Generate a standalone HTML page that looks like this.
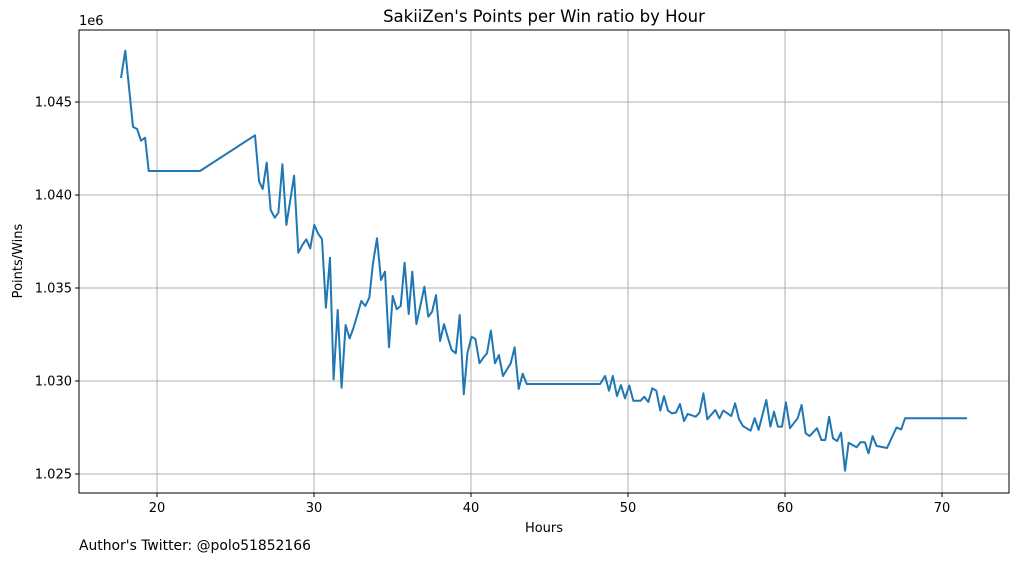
<!DOCTYPE html>
<html><head><meta charset="utf-8"><style>
body{margin:0;background:#fff;font-family:"Liberation Sans","DejaVu Sans",sans-serif;}
svg text{font-family:"DejaVu Sans","Liberation Sans",sans-serif;fill:#000;}
</style></head><body>
<svg id="chart" width="1019" height="562" viewBox="0 0 1019 562" xmlns="http://www.w3.org/2000/svg">
<rect width="1019" height="562" fill="#fff"/>
<g id="grid"></g>
<path id="line" fill="none" stroke="#1f77b4" stroke-width="2" stroke-linejoin="round"/>
<rect x="79" y="30" width="930" height="463" fill="none" stroke="#000" stroke-width="1"/>
<g id="ticks"></g>
<text x="544" y="22" font-size="16.5" text-anchor="middle">SakiiZen's Points per Win ratio by Hour</text>
<text x="544" y="532" font-size="13" text-anchor="middle">Hours</text>
<text x="22" y="261" font-size="13" text-anchor="middle" transform="rotate(-90 22 261)">Points/Wins</text>
<text x="79" y="25" font-size="13">1e6</text>
<text x="79" y="550" font-size="13.9">Author's Twitter: @polo51852166</text>
</svg>
<script>
const hours=[17.71,17.98,18.47,18.73,18.98,19.24,19.47,22.74,26.24,26.50,26.73,26.99,27.24,27.50,27.73,27.99,28.24,28.73,29.00,29.26,29.51,29.76,30.02,30.25,30.51,30.76,31.02,31.25,31.51,31.76,32.01,32.27,32.50,32.76,33.01,33.27,33.52,33.76,34.01,34.27,34.52,34.78,35.01,35.27,35.52,35.77,36.03,36.26,36.52,36.77,37.03,37.28,37.52,37.77,38.03,38.28,38.54,38.77,39.03,39.28,39.54,39.77,40.03,40.28,40.54,40.76,41.02,41.27,41.53,41.78,42.04,42.27,42.53,42.78,43.04,43.29,43.55,48.22,48.54,48.79,49.03,49.30,49.55,49.81,50.08,50.34,50.80,51.03,51.29,51.55,51.80,52.06,52.29,52.55,52.80,53.06,53.31,53.57,53.80,54.31,54.56,54.80,55.05,55.56,55.82,56.07,56.58,56.82,57.07,57.32,57.81,58.07,58.32,58.81,59.07,59.30,59.55,59.81,60.06,60.32,60.81,61.06,61.32,61.57,62.04,62.32,62.57,62.81,63.06,63.32,63.57,63.82,64.05,64.56,64.81,65.09,65.32,65.58,65.83,66.5,67.1,67.4,67.65,71.6];
const ratios=[1.04629,1.04776,1.04366,1.04355,1.04292,1.04308,1.04129,1.04129,1.04321,1.04072,1.04032,1.04174,1.03919,1.03878,1.03905,1.04165,1.03839,1.04104,1.03690,1.03731,1.03762,1.03713,1.03839,1.03794,1.03763,1.03394,1.03663,1.03009,1.03382,1.02964,1.03301,1.03229,1.03283,1.03355,1.03430,1.03403,1.03448,1.03633,1.03767,1.03543,1.03588,1.03181,1.03457,1.03386,1.03403,1.03636,1.03360,1.03588,1.03306,1.03403,1.03507,1.03345,1.03373,1.03462,1.03215,1.03306,1.03229,1.03167,1.03149,1.03355,1.02929,1.03149,1.03238,1.03226,1.03095,1.03122,1.03149,1.03271,1.03095,1.03140,1.03027,1.03059,1.03095,1.03181,1.02957,1.03040,1.02984,1.02984,1.03027,1.02948,1.03027,1.02919,1.02978,1.02907,1.02975,1.02894,1.02894,1.02915,1.02887,1.02961,1.02948,1.02841,1.02919,1.02841,1.02826,1.02830,1.02876,1.02785,1.02823,1.02808,1.02830,1.02934,1.02794,1.02844,1.02799,1.02841,1.02812,1.02880,1.02794,1.02758,1.02733,1.02800,1.02737,1.02898,1.02755,1.02835,1.02755,1.02755,1.02885,1.02746,1.02800,1.02871,1.02719,1.02704,1.02746,1.02683,1.02683,1.02808,1.02692,1.02677,1.02722,1.02518,1.02668,1.02644,1.02671,1.02671,1.02611,1.02704,1.02651,1.02640,1.02750,1.02740,1.02800,1.02800];
const xTicks=[20,30,40,50,60,70];
const yTicks=[1.025,1.030,1.035,1.040,1.045];
const yTickLabels=["1.025","1.030","1.035","1.040","1.045"];

const NS="http://www.w3.org/2000/svg";
function xs(h){return 157+(h-20)*15.7;}
function ys(v){return 102+(1.045-v)*18600;}
const grid=document.getElementById('grid'),ticks=document.getElementById('ticks');
function mk(tag,attrs,parent){const e=document.createElementNS(NS,tag);for(const k in attrs)e.setAttribute(k,attrs[k]);parent.appendChild(e);return e;}
xTicks.forEach(t=>{
  const x=xs(t);
  const g=mk('line',{x1:x,x2:x,y1:30,y2:493,stroke:'#b0b0b0','stroke-width':1},grid);
  
  
  const tk=mk('line',{x1:x,x2:x,y1:493,y2:497,stroke:'#000'},ticks);
  
  
  const lb=mk('text',{x:x,y:512,'font-size':13,'text-anchor':'middle'},ticks);
  lb.textContent=String(t);
  
  
});
yTicks.forEach((t,i)=>{
  const y=ys(t);
  const g=mk('line',{x1:79,x2:1009,y1:y,y2:y,stroke:'#b0b0b0','stroke-width':1},grid);
  
  
  const tk=mk('line',{x1:75,x2:79,y1:y,y2:y,stroke:'#000'},ticks);
  
  
  const lb=mk('text',{x:72,y:y+4.5,'font-size':13,'text-anchor':'end'},ticks);
  lb.textContent=yTickLabels[i];
  
  
});
document.getElementById('line').setAttribute('d',hours.map((h,i)=>(i?'L':'M')+xs(h).toFixed(1)+','+ys(ratios[i]).toFixed(1)).join(''));
</script>
</body></html>
